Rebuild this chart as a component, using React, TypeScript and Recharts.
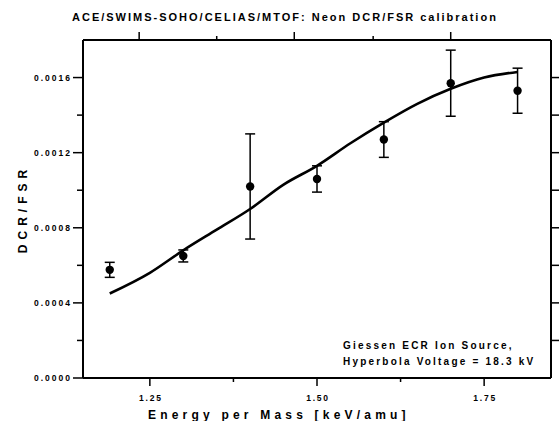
import { ComposedChart, Line, Scatter, ErrorBar, XAxis, YAxis } from 'recharts'

// measured points (energy per mass, DCR/FSR, error)
const energy = [1.19, 1.3, 1.4, 1.5, 1.6, 1.7, 1.8]
const ratio = [0.000576, 0.00065, 0.00102, 0.00106, 0.00127, 0.00157, 0.00153]
const ratioErr = [0.00004, 0.000032, 0.00028, 0.00007, 0.000095, 0.000176, 0.00012]

// calibration curve
const fitEnergy = [1.19, 1.25, 1.3, 1.35, 1.4, 1.45, 1.5, 1.55, 1.6, 1.65, 1.7, 1.75, 1.8]
const fitRatio = [0.00045, 0.00056, 0.00068, 0.00079, 0.0009, 0.00103, 0.00113, 0.00125, 0.00136, 0.00146, 0.00154, 0.0016, 0.00163]

const xMajor = [1.25, 1.5, 1.75]
const xMinor = [1.375, 1.625]
const topTicks = [1.234, 1.35, 1.466, 1.584, 1.7]
const topMajor = [1.234, 1.466, 1.7]
const yMajor = [0, 0.0004, 0.0008, 0.0012, 0.0016]
const yMinor = [0.0002, 0.0006, 0.001, 0.0014]
const rightTicks = [0.0002, 0.0004, 0.0006, 0.0008, 0.001, 0.0012, 0.0014, 0.0016]

const points = energy.map((e, i) => ({ x: e, y: ratio[i], err: ratioErr[i] }))
const fit = fitEnergy.map((e, i) => ({ x: e, y: fitRatio[i] }))

const FONT = 'Liberation Sans, Arial, Helvetica, sans-serif'
const isIn = (v: number, list: number[]) => list.some(m => Math.abs(m - v) < 1e-9)

const BottomTick = ({ x, y, payload }: any) => {
  const major = isIn(payload.value, xMajor)
  return (
    <g>
      <line x1={x} y1={y} x2={x} y2={y + (major ? 8 : 4)} stroke="#000" strokeWidth={1.5} />
      {major && (
        <text x={x + 1} y={y + 23} textAnchor="middle" fontFamily={FONT} fontWeight={700} fontSize={8.5}
          style={{ letterSpacing: 1.8 }} fill="#000">
          {payload.value.toFixed(2)}
        </text>
      )}
    </g>
  )
}

const TopTick = ({ x, y, payload }: any) => {
  const major = isIn(payload.value, topMajor)
  return <line x1={x} y1={y} x2={x} y2={y - (major ? 8 : 4)} stroke="#000" strokeWidth={1.5} />
}

const LeftTick = ({ x, y, payload }: any) => {
  const major = isIn(payload.value, yMajor)
  return (
    <g>
      <line x1={x} y1={y} x2={x - (major ? 10 : 6)} y2={y} stroke="#000" strokeWidth={1.5} />
      {major && (
        <text x={x - 11} y={y + 3} textAnchor="end" fontFamily={FONT} fontWeight={700} fontSize={8.5}
          style={{ letterSpacing: 2 }} fill="#000">
          {payload.value.toFixed(4)}
        </text>
      )}
    </g>
  )
}

const RightTick = ({ x, y }: any) => (
  <line x1={x} y1={y} x2={x + 8} y2={y} stroke="#000" strokeWidth={1.5} />
)

const Dot = ({ cx, cy }: any) => <circle cx={cx} cy={cy} r={4.2} fill="#000" />

const txt = { fontFamily: FONT, fontWeight: 700, fill: '#000' } as const

export default function App() {
  return (
    <div style={{ position: 'absolute', left: 0, top: 0, width: 559, height: 421, background: '#fff' }}>
      <ComposedChart width={559} height={421} margin={{ top: 0, right: 0, bottom: 0, left: 0 }}>
        <XAxis xAxisId="b" type="number" dataKey="x" domain={[1.15, 1.85]} ticks={[...xMajor, ...xMinor].sort()}
          height={43} interval={0} tickSize={0} tickMargin={0} tickLine={false}
          axisLine={{ stroke: '#000', strokeWidth: 2 }} tick={<BottomTick />} allowDataOverflow />
        <XAxis xAxisId="t" orientation="top" type="number" dataKey="x" domain={[1.15, 1.85]} ticks={topTicks}
          height={40} interval={0} tickSize={0} tickMargin={0} tickLine={false}
          axisLine={{ stroke: '#000', strokeWidth: 2 }} tick={<TopTick />} allowDataOverflow />
        <YAxis yAxisId="l" type="number" domain={[0, 0.0018]} ticks={[...yMajor, ...yMinor].sort()}
          width={83} interval={0} tickSize={0} tickMargin={0} tickLine={false}
          axisLine={{ stroke: '#000', strokeWidth: 2 }} tick={<LeftTick />} allowDataOverflow />
        <YAxis yAxisId="r" orientation="right" type="number" domain={[0, 0.0018]} ticks={rightTicks}
          width={8} interval={0} tickSize={0} tickMargin={0} tickLine={false}
          axisLine={{ stroke: '#000', strokeWidth: 2 }} tick={<RightTick />} allowDataOverflow />
        <Line xAxisId="b" yAxisId="l" data={fit} dataKey="y" type="monotone" stroke="#000" strokeWidth={2.6}
          dot={false} activeDot={false} isAnimationActive={false} />
        <Scatter xAxisId="b" yAxisId="l" data={points} dataKey="y" fill="#000" shape={<Dot />} isAnimationActive={false}>
          <ErrorBar dataKey="err" direction="y" width={5} stroke="#000" strokeWidth={1.5} isAnimationActive={false} />
        </Scatter>
      </ComposedChart>
      <svg width={559} height={421} style={{ position: 'absolute', left: 0, top: 0, pointerEvents: 'none' }}>
        <text x={72} y={21} fontSize={11} style={{ letterSpacing: 2 }} {...txt}>
          ACE/SWIMS-SOHO/CELIAS/MTOF: Neon DCR/FSR calibration
        </text>
        <text x={148} y={419} fontSize={12} style={{ letterSpacing: 4.2 }} {...txt}>
          Energy per Mass [keV/amu]
        </text>
        <text x={27} y={209} fontSize={12} textAnchor="middle" transform="rotate(-90 27 209)"
          style={{ letterSpacing: 5 }} {...txt}>
          DCR/FSR
        </text>
        <text x={343} y={349} fontSize={10} style={{ letterSpacing: 2.2 }} {...txt}>
          Giessen ECR Ion Source,
        </text>
        <text x={343} y={365} fontSize={10} style={{ letterSpacing: 2.2 }} {...txt}>
          Hyperbola Voltage = 18.3 kV
        </text>
      </svg>
    </div>
  )
}
